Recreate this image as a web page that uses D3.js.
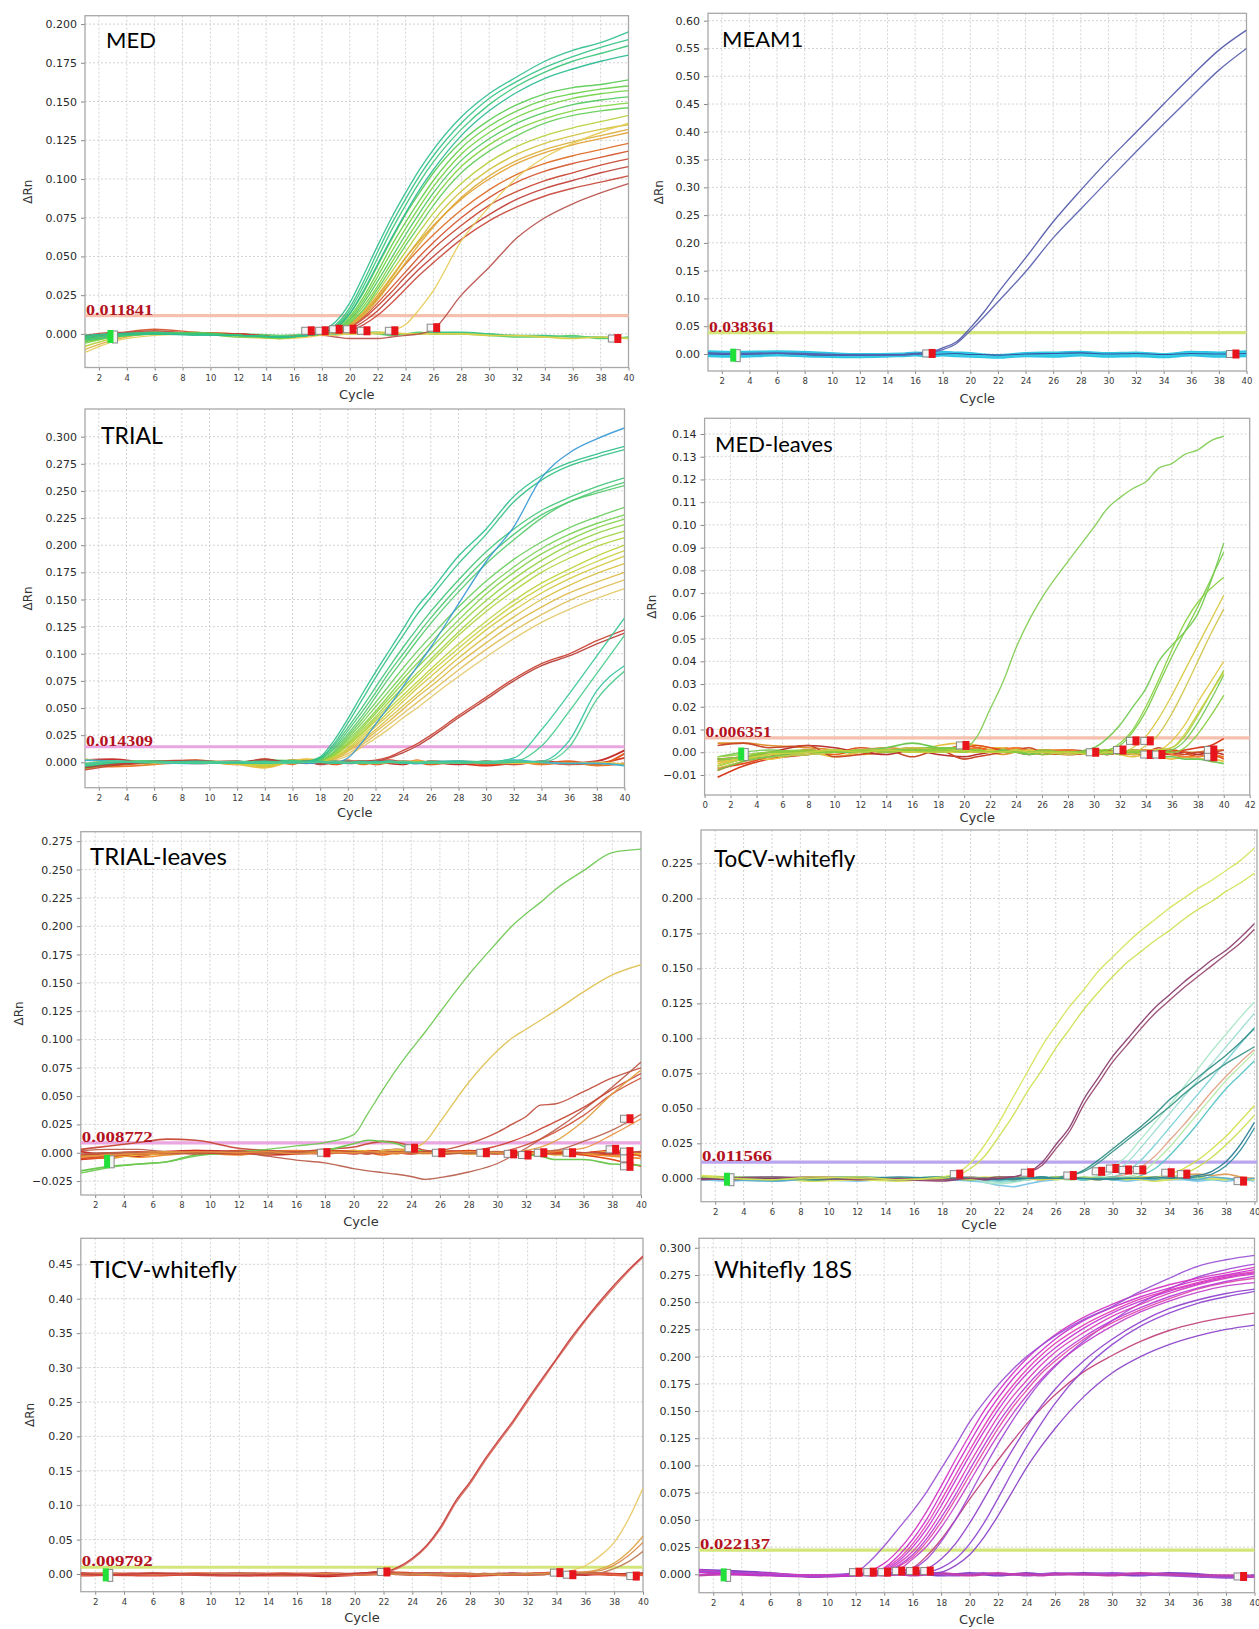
<!DOCTYPE html>
<html>
<head>
<meta charset="utf-8">
<script src="https://cdn.jsdelivr.net/npm/d3@7"></script>
<style>
  body { margin: 0; background: #fff; }
  svg { display: block; }
</style>
</head>
<body>
<div id="fig"></div>
<script>
// ---- shared ticks ----
var cycleTicks = [2,4,6,8,10,12,14,16,18,20,22,24,26,28,30,32,34,36,38,40];
var cycleTicks0 = [0,2,4,6,8,10,12,14,16,18,20,22,24,26,28,30,32,34,36,38,40,42];

// ---- MED ----
var medCycles = [1,3,6,9,12,15,17,18,19,20,21,22,23,24,25,26,28,30,32,34,36,38,40];
var medYTicks = [0,.025,.05,.075,.1,.125,.15,.175,.2];
var medBase = [
  ['#3fc585', [-.003,-.001,0,0,-.001,-.002,-.001,0,0,.001,.001,.001,0,0,0,.001,.001,0,-.001,-.001,-.002,-.002,-.003]],
  ['#5fd070', [-.001,0,.001,0,0,-.001,0,.001,0,0,.001,0,-.001,0,.001,0,0,-.001,-.002,-.002,-.001,-.003,-.002]],
  ['#d8d048', [-.002,-.001,0,0,-.001,-.002,-.001,0,.001,0,0,.001,.001,0,0,0,0,-.001,-.001,-.002,-.003,-.002,-.003]]
];
var medCurves = [
  ['#dd6a22', [-.003,0,.001,.001,0,-.002,-.001,.001,.002,.006,.013,.023,.034,.045,.055,.064,.080,.093,.103,.110,.115,.119,.123]],
  ['#d4522a', [-.002,0,.003,.001,0,-.002,-.001,0,.002,.005,.011,.020,.030,.040,.050,.059,.075,.088,.098,.105,.110,.114,.118]],
  ['#c84430', [-.004,-.001,.001,0,-.001,-.002,-.001,0,.001,.004,.010,.018,.027,.037,.046,.055,.070,.083,.092,.099,.104,.109,.113]],
  ['#bf3e36', [-.002,0,.001,0,0,-.002,-.001,0,.001,.003,.008,.015,.024,.033,.042,.050,.065,.077,.087,.094,.099,.104,.108]],
  ['#c8463a', [-.001,.001,.001,0,0,-.002,-.001,0,.001,.002,.006,.012,.020,.029,.038,.046,.061,.073,.082,.089,.094,.098,.102]],
  ['#b8504a', [-.002,0,.002,0,-.001,-.002,-.001,-.001,-.002,-.003,-.003,-.003,-.002,-.001,0,.003,.025,.043,.062,.075,.084,.091,.097]],
  ['#b5cf3a', [-.008,-.003,0,0,-.001,-.002,-.001,0,.002,.007,.015,.027,.040,.053,.066,.078,.097,.111,.121,.128,.133,.137,.141]],
  ['#cfc23c', [-.005,-.002,0,0,-.001,-.003,-.001,0,.001,.006,.013,.024,.036,.049,.061,.073,.092,.106,.116,.123,.128,.132,.135]],
  ['#dcae38', [-.010,-.004,0,0,-.001,-.003,-.001,0,.001,.005,.012,.022,.034,.046,.058,.069,.088,.102,.112,.119,.124,.128,.132]],
  ['#e29f30', [-.004,-.001,.001,0,-.001,-.002,-.001,0,.002,.006,.014,.025,.037,.049,.060,.070,.087,.100,.110,.117,.122,.126,.130]],
  ['#e6cc58', [-.012,-.005,-.001,0,-.002,-.003,-.002,-.001,-.001,0,0,0,.002,.006,.016,.028,.060,.082,.101,.114,.123,.130,.136]],
  ['#5acb52', [-.005,-.002,0,.001,-.001,-.002,-.001,.001,.005,.013,.027,.044,.061,.077,.091,.104,.124,.138,.148,.155,.159,.161,.164]],
  ['#66cf48', [-.003,-.001,0,0,-.001,-.002,-.001,0,.004,.011,.024,.040,.057,.072,.086,.099,.120,.134,.144,.151,.155,.158,.160]],
  ['#72d244', [-.006,-.002,.001,0,-.001,-.003,-.001,0,.003,.010,.022,.037,.053,.068,.082,.095,.116,.130,.140,.147,.152,.155,.157]],
  ['#4fc85c', [-.002,0,0,0,-.001,-.002,-.001,0,.003,.009,.020,.034,.049,.064,.078,.091,.112,.126,.136,.143,.148,.151,.153]],
  ['#7fd440', [-.004,-.001,0,0,-.001,-.002,-.001,0,.002,.008,.018,.031,.046,.060,.074,.087,.108,.122,.132,.139,.144,.147,.149]],
  ['#62cd58', [-.003,-.001,0,0,-.002,-.002,-.001,0,.002,.007,.016,.029,.043,.057,.070,.083,.104,.118,.128,.136,.141,.144,.146]],
  ['#2fbf8c', [-.003,-.001,0,0,-.001,-.002,-.001,.002,.008,.020,.038,.057,.075,.091,.106,.119,.140,.155,.166,.176,.183,.188,.195]],
  ['#35c383', [-.002,0,.001,0,-.001,-.002,-.001,.001,.006,.017,.034,.053,.071,.087,.102,.115,.136,.152,.163,.172,.179,.185,.190]],
  ['#3ec77a', [-.004,-.002,0,0,-.001,-.002,-.001,.001,.005,.015,.031,.049,.067,.083,.098,.111,.132,.148,.160,.169,.176,.181,.186]],
  ['#29bb90', [-.001,0,0,-.001,-.001,-.002,-.001,.001,.004,.013,.028,.045,.062,.078,.093,.106,.128,.144,.156,.165,.171,.176,.180]]
];
var medMarks = [[17.2,.002],[18.2,.002],[19.2,.003],[20.2,.003],[21.2,.002],[23.2,.002],[26.2,.004],[39.2,-.003]];

// ---- MEAM1 ----
var meamCycles = [1,3,6,9,12,15,16,17,18,19,20,21,22,24,26,28,30,32,34,36,38,40];
var meamYTicks = [0,.05,.1,.15,.2,.25,.3,.35,.4,.45,.5,.55,.6];
var meamBase = [
  ['#2cc6e4', [.004,.003,.004,.002,-.001,0,.002,.001,.003,.002,.001,-.002,-.003,.001,.002,.003,.001,.002,-.001,.003,.002,.004], 3],
  ['#2cc6e4', [-.003,-.004,-.002,-.004,-.005,-.003,-.002,-.003,-.002,-.003,-.004,-.005,-.006,-.003,-.004,-.002,-.004,-.003,-.005,-.002,-.004,-.003], 3],
  ['#38cce6', [.001,0,.001,-.001,-.003,-.002,0,-.001,0,-.001,-.002,-.003,-.004,-.001,0,.001,-.001,0,-.002,.001,-.001,.001], 3],
  ['#3a52a0', [0,-.001,.001,-.002,-.002,-.001,0,-.001,0,.001,-.001,-.001,-.002,0,.001,.002,0,.001,-.001,.001,0,.001], 1.1]
];
var meamCurves = [
  ['#5058a8', [.002,.001,.002,0,-.002,-.001,.001,.003,.011,.022,.047,.076,.110,.173,.238,.295,.349,.399,.450,.500,.547,.583]],
  ['#5a62b0', [.001,0,.001,-.001,-.002,-.002,0,.002,.008,.019,.042,.067,.094,.148,.209,.261,.313,.364,.414,.463,.511,.550]]
];
var meamMarks = [[17.2,.001],[39.2,0]];

// ---- TRIAL ----
var trialCycles = [1,3,6,9,12,14,16,17,18,19,20,21,22,23,24,25,26,28,30,32,34,36,38,40];
var trialYTicks = [0,.025,.05,.075,.1,.125,.15,.175,.2,.225,.25,.275,.3];
var trialBase = [
  ['#d83a20', [-.004,-.003,0,.001,-.001,.002,0,.001,-.002,0,.001,-.001,0,.002,0,-.001,.001,-.001,-.003,-.001,0,-.002,-.001,.004]],
  ['#e05a20', [-.006,-.002,.001,-.001,0,-.002,.001,-.001,.001,-.002,0,.001,-.002,0,.001,0,-.002,.001,-.002,0,-.001,.001,-.002,.008]],
  ['#c83030', [.002,.003,-.001,0,.001,-.004,.002,0,-.001,.001,-.001,0,.001,-.001,-.002,.001,0,-.002,.001,-.002,.001,-.001,.001,.011]],
  ['#e87a28', [-.003,-.004,-.002,.002,-.002,.003,-.002,.002,0,-.001,.002,-.002,0,.001,-.001,.002,-.001,0,-.001,.001,-.002,0,-.003,-.001]],
  ['#e8c040', [.003,0,-.001,0,-.002,-.005,.001,.003,.002,0,.001,0,-.001,0,0,.001,0,.001,0,-.001,0,-.001,0,-.002]],
  ['#40b0d0', [.002,.001,0,-.001,0,.001,0,0,-.001,0,.001,0,0,.001,0,-.001,0,.001,0,.002,0,-.001,-.001,-.003]]
];
var trialCurves = [
  ['#e4c868', [-.002,0,0,0,-.001,-.003,.001,.001,0,.002,.006,.014,.022,.031,.041,.050,.060,.079,.097,.114,.129,.141,.151,.160]],
  ['#e0be58', [-.003,0,.001,.001,0,-.002,.002,.001,.001,.003,.008,.016,.025,.035,.045,.055,.065,.085,.104,.121,.136,.149,.159,.168]],
  ['#dcb848', [-.005,-.002,0,0,-.001,-.003,.001,.001,.001,.003,.010,.018,.028,.038,.049,.060,.070,.091,.110,.128,.143,.156,.166,.175]],
  ['#d8bf42', [-.002,0,.001,0,-.001,-.002,.001,.002,.001,.004,.011,.020,.030,.041,.052,.063,.074,.096,.116,.134,.150,.163,.174,.183]],
  ['#d2c840', [-.004,-.001,0,.001,0,-.004,.002,.001,.001,.004,.012,.022,.033,.044,.056,.068,.079,.101,.122,.140,.156,.169,.180,.190]],
  ['#c8cf3e', [-.001,.001,0,0,-.001,-.003,.001,.001,.001,.005,.013,.024,.035,.047,.059,.071,.083,.105,.126,.145,.161,.174,.185,.195]],
  ['#bcd23c', [-.003,0,.001,0,-.001,-.002,.001,.001,.002,.006,.015,.026,.038,.050,.062,.074,.086,.109,.130,.149,.165,.178,.190,.200]],
  ['#aed33c', [-.006,-.002,0,0,0,.001,.001,0,.001,.006,.016,.027,.040,.053,.066,.079,.092,.117,.139,.158,.175,.188,.199,.207]],
  ['#a0d440', [-.002,0,0,.001,-.001,.002,0,.001,.002,.007,.017,.029,.042,.056,.069,.082,.095,.120,.143,.163,.180,.194,.205,.213]],
  ['#92d444', [-.004,-.001,.001,0,0,.001,.001,0,.002,.007,.018,.031,.045,.059,.073,.087,.100,.126,.149,.169,.186,.200,.211,.219]],
  ['#84d24a', [-.003,0,0,0,-.001,.001,.002,.001,.002,.008,.020,.033,.047,.062,.077,.091,.105,.131,.155,.175,.192,.205,.216,.224]],
  ['#76d052', [-.005,-.002,0,.001,0,.002,.001,0,.002,.009,.022,.036,.051,.066,.081,.096,.110,.137,.160,.180,.197,.210,.220,.228]],
  ['#68cd5c', [-.002,0,.001,0,-.001,.001,0,.001,.002,.010,.024,.039,.055,.071,.087,.102,.116,.143,.167,.187,.203,.216,.226,.235]],
  ['#56ca6c', [-.004,-.001,0,.001,0,.001,.001,0,.003,.012,.026,.042,.060,.078,.095,.112,.128,.157,.183,.205,.225,.240,.248,.255]],
  ['#4cc872', [-.003,0,.001,0,-.001,.001,0,.001,.003,.013,.029,.046,.064,.083,.100,.117,.133,.162,.188,.210,.228,.240,.250,.258]],
  ['#42c57a', [-.005,-.001,0,.001,0,.002,.001,0,.004,.015,.032,.050,.069,.088,.106,.123,.139,.168,.194,.215,.232,.244,.254,.262]],
  ['#34c184', [-.002,0,.001,0,-.001,.001,0,.001,.004,.017,.036,.057,.078,.098,.117,.136,.152,.183,.210,.240,.260,.273,.281,.288]],
  ['#2fbf8a', [-.004,-.002,0,.001,0,.002,.001,.001,.005,.020,.040,.062,.083,.103,.123,.143,.158,.190,.215,.245,.264,.276,.284,.291]],
  ['#3a9ad6', [-.003,.001,0,0,-.001,.001,0,-.001,0,0,.004,.018,.035,.052,.070,.088,.106,.146,.185,.217,.262,.285,.298,.308]],
  ['#c84030', [-.007,-.003,.001,.002,-.001,.002,0,.001,-.001,0,.001,.001,.002,.005,.011,.017,.025,.043,.060,.077,.091,.100,.112,.122]],
  ['#b83c34', [-.005,-.002,0,.001,0,.003,-.001,0,0,.001,0,.001,.001,.004,.009,.015,.023,.041,.058,.075,.089,.098,.109,.119]],
  ['#3cc896', [-.002,.001,0,-.001,0,.001,0,.001,0,-.001,0,.001,0,0,-.001,0,.001,0,0,.004,.030,.063,.098,.133]],
  ['#48cc8c', [-.003,0,.001,0,-.001,0,.001,0,0,.001,0,-.001,0,.001,0,0,-.001,0,.001,.001,.015,.047,.082,.117]],
  ['#36c4a0', [-.001,0,0,.001,0,-.001,0,0,.001,0,-.001,0,.001,0,0,-.001,0,.001,-.001,0,.001,.020,.066,.089]],
  ['#50cc90', [-.002,.001,0,0,.001,0,-.001,0,0,.001,0,0,-.001,0,.001,0,0,-.001,0,.001,0,.014,.058,.084]]
];
var trialMarks = [];

// ---- MED-leaves ----
var medlCycles = [1,3,5,8,10,12,14,16,18,20,21,22,23,24,25,26,28,30,31,32,33,34,35,36,37,38,39,40];
var medlYTicks = [-.01,0,.01,.02,.03,.04,.05,.06,.07,.08,.09,.1,.11,.12,.13,.14];
var medlBase = [
  ['#d83a1c', [-.011,-.006,-.003,-.001,.001,0,.001,.001,.002,.001,.002,.001,.002,.001,0,.001,0,0,-.001,0,.001,0,-.001,0,.001,.002,.003,.006]],
  ['#e8661c', [-.008,-.004,-.002,0,-.001,.001,0,.002,.001,.003,.002,.001,.001,0,.001,0,-.001,0,.001,-.001,0,-.002,-.001,-.001,-.002,-.001,-.002,-.002]],
  ['#e09030', [.004,.004,.003,.002,.001,-.001,0,.001,.002,.002,.001,0,-.001,0,0,-.001,0,.001,0,0,.001,.001,0,.001,0,0,.001,.001]],
  ['#e8c040', [-.005,-.003,-.003,0,-.002,0,.001,0,.003,.004,.003,.002,.002,.001,.001,.001,0,-.001,0,-.001,-.002,-.001,-.002,-.003,-.002,-.003,-.003,-.004]],
  ['#b83030', [-.003,-.002,0,.003,.002,0,-.001,.001,-.001,-.002,-.001,0,.001,0,-.001,0,.001,0,-.001,0,0,.001,0,-.001,0,-.001,0,-.001]],
  ['#e05020', [-.007,-.005,-.002,.001,0,.002,.001,.002,.001,.002,.003,.002,.001,.002,.001,0,.001,0,0,.001,0,-.001,0,.001,0,-.002,-.001,-.003]],
  ['#c84828', [.003,.004,.002,.003,-.002,-.001,.001,-.002,.001,-.003,-.002,-.001,0,.001,.002,0,-.001,0,.001,0,-.001,0,.002,0,-.001,0,0,.001]],
  ['#f08030', [-.004,-.002,-.001,.001,0,.001,.002,.001,0,.002,.001,0,.001,.002,0,.001,.001,-.001,0,.001,-.001,0,.001,-.001,-.002,-.002,-.001,-.002]],
  ['#6cc850', [-.006,-.003,-.002,-.001,0,.001,.002,.004,.002,.001,.001,0,0,0,-.001,0,0,0,0,.001,0,-.001,-.002,-.002,-.003,-.003,-.004,-.005]]
];
var medlCurves = [
  ['#80cc50', [-.004,-.002,-.001,0,0,.001,.001,.002,.002,.002,.007,.019,.031,.046,.058,.068,.084,.099,.107,.112,.116,.119,.125,.127,.131,.133,.137,.139]],
  ['#6ec84a', [-.002,0,.001,0,.001,0,.001,.001,0,.001,0,0,0,0,-.001,0,0,.002,.006,.012,.020,.028,.040,.047,.053,.061,.075,.092]],
  ['#78cc44', [-.006,-.003,-.001,0,0,.001,0,.001,.002,.001,0,.001,0,0,0,-.001,0,0,.001,.003,.009,.018,.030,.042,.053,.064,.076,.088]],
  ['#88d040', [-.003,-.002,0,.001,0,0,.001,.001,.001,0,.001,0,.001,0,0,0,-.001,.001,.001,.004,.010,.020,.032,.045,.057,.066,.072,.077]],
  ['#d8c840', [-.004,-.003,-.001,0,.001,0,.001,0,.001,.001,0,.001,0,0,.001,0,0,-.001,0,0,.002,.007,.015,.025,.036,.047,.058,.069]],
  ['#d0c44a', [-.007,-.004,-.002,-.001,0,.001,.001,.002,.001,0,.001,0,0,.001,0,0,-.001,0,0,.001,0,.003,.008,.017,.028,.040,.052,.063]],
  ['#e0c848', [-.005,-.003,-.001,0,0,.001,0,.001,0,0,0,.001,0,0,.001,0,0,0,-.001,0,0,.001,.001,.005,.012,.022,.031,.040]],
  ['#9ad040', [-.002,-.001,0,0,.001,0,.001,0,.001,.001,0,0,0,.001,0,0,0,-.001,0,0,.001,0,.001,.002,.007,.016,.026,.036]],
  ['#70c850', [-.008,-.004,-.002,0,0,0,.001,.001,0,.001,0,0,.001,0,0,0,0,0,-.001,0,0,0,0,.001,.005,.013,.023,.034]],
  ['#86cc3c', [-.003,-.002,0,0,0,.001,0,.001,.001,0,.001,0,0,0,0,.001,0,0,0,-.001,0,0,0,0,.002,.008,.016,.025]],
  ['#c8d040', [-.006,-.003,-.001,0,.001,0,.001,0,0,.001,0,0,0,.001,0,0,0,-.001,0,0,-.001,0,.001,.002,.008,.017,.026,.035]]
];
var medlMarks = [[20.1,.003],[30.1,0],[32.2,.001],[33.2,.005],[34.3,.005],[34.3,-.001],[35.2,-.001],[39.2,.001],[39.2,-.002]];

// ---- TRIAL-leaves ----
var trlCycles = [1,3,5,7,9,12,14,16,18,20,21,22,23,24,25,26,28,30,31,32,33,34,36,38,40];
var trlYTicks = [-.025,0,.025,.05,.075,.1,.125,.15,.175,.2,.225,.25,.275];
var trlBase = [
  ['#d83a1c', [-.006,-.004,-.002,.001,-.001,.002,0,.001,0,.002,.001,0,.001,.002,0,.001,-.001,0,-.001,.001,0,-.001,0,.002,-.003]],
  ['#e8661c', [-.004,-.005,-.001,0,.002,0,.002,0,-.001,.001,0,-.002,0,.001,.002,-.001,0,.001,0,-.001,-.002,0,-.001,-.002,-.002]],
  ['#f09030', [-.003,-.001,-.004,-.002,0,-.002,.001,.002,.001,0,.002,.001,-.001,.002,.001,0,.001,-.001,.001,0,.001,.002,-.001,-.003,-.005]],
  ['#c83028', [.001,-.002,-.003,.001,.002,.001,-.002,-.001,.002,-.001,.001,.002,.003,.001,0,.002,.001,0,-.002,-.001,0,.001,0,-.001,0]],
  ['#e8b838', [-.002,-.004,-.002,-.001,0,.001,-.001,.001,0,.002,.001,0,.002,.001,.001,.002,-.001,0,.001,-.001,0,-.002,-.001,.001,-.001]],
  ['#c85040', [.003,.006,.009,.012,.011,.004,.002,.001,.003,.005,.008,.010,.009,.006,.002,.001,0,-.001,0,.001,0,-.001,0,0,.001]],
  ['#e04818', [-.005,-.003,-.001,0,.001,-.001,.001,0,.002,.001,-.001,.001,0,-.001,.001,0,.002,0,-.001,0,.001,0,-.002,-.006,-.012]],
  ['#6cc850', [-.016,-.012,-.010,-.008,-.002,0,.001,0,.002,.008,.011,.010,.008,.003,.001,0,0,0,-.001,-.002,-.003,-.006,-.006,-.010,-.011]]
];
var trlCurves = [
  ['#6cc850', [-.018,-.013,-.010,-.008,-.003,.001,.003,.006,.009,.016,.035,.055,.074,.091,.107,.124,.157,.186,.200,.211,.221,.232,.249,.265,.268]],
  ['#e0c050', [-.004,-.002,0,.001,0,0,.001,0,0,.001,0,.002,.003,.004,.010,.027,.062,.090,.101,.109,.117,.125,.142,.157,.166]],
  ['#c04a3a', [-.003,-.001,0,.001,0,-.001,.001,0,.001,0,-.001,.001,0,.001,.001,.002,.008,.018,.025,.032,.042,.043,.054,.066,.075]],
  ['#b85a48', [.002,.003,.003,.001,.001,0,-.003,-.0065,-.009,-.014,-.016,-.0175,-.019,-.021,-.0235,-.022,-.017,-.0095,-.003,.004,.012,.020,.038,.058,.080]],
  ['#c8402e', [-.002,0,.001,0,-.001,.001,0,-.001,0,.001,0,0,.001,0,0,-.001,.001,.006,.010,.015,.021,.027,.040,.056,.070]],
  ['#d05038', [-.005,-.003,-.001,0,.001,0,-.001,.001,0,0,.001,0,0,-.001,0,.001,0,0,.003,.007,.012,.018,.033,.052,.066]],
  ['#e0a040', [-.003,-.002,0,.001,0,.001,0,0,.001,0,0,.001,0,0,-.001,0,0,.001,0,.002,.005,.010,.028,.052,.073]],
  ['#b86048', [-.001,0,0,-.001,0,.001,0,0,-.001,.001,0,0,.001,0,0,-.001,0,.001,0,0,.001,.002,.010,.020,.034]],
  ['#e89040', [-.004,-.002,-.001,0,.001,0,.001,-.001,0,0,.001,0,0,.001,0,0,.001,0,-.001,0,0,.001,.004,.016,.030]]
];
var trlMarks = [[18.1,0],[24.2,.004],[26.1,0],[29.2,0],[31.1,-.001],[32.1,-.002],[33.2,0],[35.2,0],[38.2,.003],[39.2,.030],[39.2,.001],[39.2,-.005],[39.2,-.012]];

// ---- ToCV-whitefly ----
var tocvCycles = [1,3,6,9,12,15,18,20,21,22,23,24,25,26,27,28,29,30,31,32,33,34,35,36,37,38,39,40];
var tocvYTicks = [0,.025,.05,.075,.1,.125,.15,.175,.2,.225];
var tocvBase = [
  ['#e0a060', [.001,0,.001,-.001,0,-.001,0,.001,-.001,0,.001,0,-.001,0,.001,0,-.001,0,0,.001,0,-.001,.002,.003,.002,.003,.001,0]],
  ['#80c8e8', [-.001,-.002,0,-.001,-.002,0,-.001,-.002,-.003,-.005,-.006,-.004,-.002,-.001,0,-.001,0,-.001,-.002,-.001,0,-.001,-.001,-.002,-.001,-.002,-.001,-.002]],
  ['#a0e0a0', [.001,0,-.001,0,.001,0,.001,0,-.001,-.002,-.001,0,.001,0,-.001,0,.001,-.001,0,0,-.001,0,.001,0,-.001,0,-.001,-.001]],
  ['#d8e060', [.002,.001,0,-.002,-.001,-.002,0,-.001,0,.001,0,-.001,0,-.001,0,-.001,0,.001,0,-.001,-.002,-.001,0,.001,0,-.001,0,-.001]],
  ['#60b0d0', [0,-.001,-.002,0,.001,-.001,0,.001,0,-.001,-.002,-.001,0,.001,0,-.001,0,0,.001,0,-.001,.001,0,-.001,.001,0,-.001,0]]
];
var tocvCurves = [
  ['#a8e6c6', [0,-.001,0,.001,0,-.001,0,0,-.003,-.004,-.003,-.001,0,.001,0,0,.002,.008,.016,.028,.040,.052,.065,.078,.091,.103,.115,.126]],
  ['#9cdcd2', [-.001,0,.001,0,0,-.001,0,-.001,-.002,-.003,-.002,0,0,0,.001,0,.001,.004,.011,.022,.034,.046,.058,.070,.082,.094,.106,.118]],
  ['#78d0d6', [0,0,-.001,0,.001,0,-.001,0,-.001,-.002,-.001,0,.001,0,0,.001,0,.001,.005,.013,.024,.036,.048,.060,.072,.084,.096,.108]],
  ['#e0a284', [.001,0,0,.001,0,-.001,0,.001,0,0,.001,0,-.001,0,.001,0,0,.001,.003,.008,.016,.027,.038,.050,.062,.073,.083,.092]],
  ['#b4e8a4', [0,.001,0,-.001,0,0,.001,0,0,-.001,0,.001,0,0,-.001,0,.001,0,.001,.004,.012,.022,.034,.046,.058,.070,.080,.090]],
  ['#52c2c2', [-.001,0,.001,0,0,-.001,0,0,-.001,-.001,0,0,.001,0,0,-.001,0,.001,0,.002,.007,.016,.027,.039,.052,.064,.074,.084]],
  ['#2e8c82', [0,.001,0,-.001,0,0,.001,0,-.001,0,.001,0,0,.001,.002,.006,.013,.021,.029,.037,.046,.056,.064,.072,.080,.088,.097,.107]],
  ['#3a9488', [.001,0,-.001,0,.001,0,0,-.001,0,.001,0,0,.001,0,.002,.005,.011,.019,.027,.035,.043,.051,.060,.068,.075,.082,.088,.094]],
  ['#d2e04a', [.001,0,0,-.001,0,0,-.001,0,.001,0,-.001,0,0,.001,0,0,-.001,0,0,.001,.001,.003,.007,.013,.021,.030,.041,.052]],
  ['#c8dc4c', [0,.001,0,0,-.001,0,0,-.001,0,.001,0,0,-.001,0,0,.001,0,0,-.001,0,0,.001,.003,.008,.015,.024,.034,.045]],
  ['#2a7e94', [0,0,-.001,0,0,.001,0,0,0,-.001,0,0,.001,0,0,0,-.001,0,0,0,.001,0,.001,.002,.005,.012,.024,.040]],
  ['#2c8a9a', [.001,0,0,-.001,0,0,.001,0,0,0,-.001,0,0,0,.001,0,0,-.001,0,0,0,.001,0,.001,.003,.009,.020,.036]],
  ['#8a3a6c', [0,-.001,0,.001,0,-.001,-.002,0,-.001,0,.001,.004,.011,.024,.037,.057,.072,.087,.099,.111,.122,.131,.140,.148,.156,.163,.172,.182]],
  ['#96446e', [-.001,0,.001,0,-.001,0,-.001,0,0,.001,.001,.004,.009,.021,.034,.053,.068,.083,.095,.107,.118,.127,.136,.144,.152,.160,.168,.178]],
  ['#d6e45a', [.002,0,-.001,0,.001,-.001,.001,.011,.024,.040,.058,.076,.094,.109,.123,.135,.148,.158,.168,.177,.185,.193,.200,.207,.213,.220,.227,.236]],
  ['#cfe050', [.001,0,-.001,.001,0,-.001,0,.007,.016,.030,.045,.062,.077,.093,.107,.121,.133,.144,.154,.162,.170,.177,.185,.192,.198,.205,.211,.218]]
];
var tocvMarks = [[19.2,.003],[24.2,.004],[27.2,.002],[29.2,.005],[30.2,.007],[31.1,.006],[32.1,.006],[34.1,.004],[35.2,.003],[39.2,-.002]];

// ---- TICV-whitefly ----
var ticvCycles = [1,3,6,9,12,15,18,20,22,23,24,25,26,27,28,29,30,31,32,33,34,35,36,37,38,39,40];
var ticvYTicks = [0,.05,.1,.15,.2,.25,.3,.35,.4,.45];
var ticvBase = [
  ['#c82828', [0,-.001,0,-.001,-.002,0,-.003,-.001,.001,0,-.001,0,.001,-.001,-.002,0,-.001,0,-.001,0,.001,0,-.001,0,-.001,0,-.001]],
  ['#d84030', [-.002,-.001,-.002,0,-.001,-.002,-.001,0,.002,.002,.001,0,-.001,-.002,-.003,-.002,-.001,-.001,0,0,.001,.002,.001,.001,0,-.001,0]],
  ['#b83030', [.001,0,.001,0,.001,-.001,.001,0,.003,.001,0,.001,0,.001,0,-.001,0,.001,0,.001,0,-.001,0,.001,-.001,0,.001]],
  ['#e06040', [0,.001,-.001,.001,0,.001,0,-.001,0,.001,0,-.001,-.002,-.003,-.002,-.001,0,-.001,0,.001,.002,.002,.001,0,-.001,-.002,-.001]]
];
var ticvCurves = [
  ['#e8c864', [0,.001,0,0,-.001,0,-.001,0,.001,0,-.001,0,0,.001,0,0,-.001,0,.001,0,.002,.005,.012,.026,.046,.080,.125]],
  ['#e0a040', [-.001,0,0,.001,0,-.001,0,0,.001,0,0,-.001,0,0,.001,0,0,0,-.001,0,.001,.001,.003,.007,.016,.032,.055]],
  ['#d88848', [0,0,.001,0,-.001,0,0,-.001,0,.001,0,0,-.001,0,0,.001,0,-.001,0,0,.001,.002,.003,.005,.013,.027,.046]],
  ['#c07850', [0,-.001,0,0,.001,0,-.001,0,.001,0,0,.001,0,-.001,0,0,.001,0,0,-.001,0,.001,.001,.002,.008,.018,.033]],
  ['#d66a5a', [-.001,0,0,-.001,-.001,.001,-.001,0,.002,.008,.021,.040,.067,.103,.131,.163,.192,.220,.251,.281,.311,.340,.368,.393,.417,.440,.460]],
  ['#c83a3a', [0,-.001,.001,0,-.002,0,-.002,.001,.003,.010,.023,.042,.070,.106,.134,.166,.195,.223,.254,.284,.313,.343,.370,.396,.420,.442,.462]]
];
var ticvMarks = [[22.2,.003],[34.2,.002],[35.1,-.001],[39.5,-.003]];

// ---- Whitefly 18S ----
var wfCycles = [1,3,6,9,12,13,14,15,16,17,18,19,20,21,22,23,24,25,26,28,30,32,34,36,38,40];
var wfYTicks = [0,.025,.05,.075,.1,.125,.15,.175,.2,.225,.25,.275,.3];
var wfBase = [
  ['#8040c8', [.004,.003,.001,-.002,-.001,0,.001,0,.001,0,-.001,0,.001,0,-.001,0,.001,0,0,.001,0,-.001,.001,0,-.002,-.001]],
  ['#a050d0', [.002,.001,0,-.001,0,-.001,0,.001,0,.001,0,-.001,0,.001,0,0,-.001,0,.001,0,.001,0,-.001,-.002,-.003,-.002]],
  ['#c040b0', [-.001,0,-.001,-.002,-.001,0,-.001,0,-.001,0,.001,0,-.001,0,.001,0,0,-.001,0,0,-.001,.001,0,-.001,-.001,-.002]]
];
var wfCurves = [
  ['#8a40c8', [.003,.002,0,-.001,-.001,0,0,0,.001,.001,.002,.008,.018,.034,.054,.076,.098,.117,.134,.163,.185,.200,.211,.219,.225,.229]],
  ['#c0407a', [.002,.001,0,-.002,0,.001,.001,.003,.006,.017,.032,.050,.069,.087,.105,.122,.138,.152,.165,.186,.201,.214,.224,.231,.236,.240]],
  ['#8e44d0', [.002,.001,-.001,-.002,0,0,0,.001,.001,.002,.006,.014,.028,.047,.070,.094,.117,.138,.157,.188,.211,.228,.240,.249,.255,.260]],
  ['#9040cc', [.003,.001,0,-.001,0,0,.001,.001,.002,.005,.014,.028,.047,.069,.092,.114,.135,.154,.170,.196,.216,.232,.244,.252,.258,.262]],
  ['#a048d4', [.004,.002,0,-.002,-.001,0,.001,.002,.005,.014,.030,.050,.073,.097,.120,.141,.160,.177,.191,.214,.233,.249,.262,.273,.280,.285]],
  ['#c040cc', [.002,.002,0,-.002,0,.001,.001,.004,.014,.026,.043,.063,.085,.107,.128,.147,.164,.179,.192,.212,.228,.241,.251,.259,.265,.268]],
  ['#e24aa8', [.003,.001,0,-.001,0,0,.002,.007,.016,.030,.048,.069,.091,.113,.134,.153,.169,.184,.196,.216,.231,.243,.253,.262,.268,.272]],
  ['#b83ad6', [.002,.001,0,-.002,-.001,0,.002,.008,.018,.033,.052,.073,.096,.118,.139,.157,.173,.187,.199,.218,.233,.245,.255,.263,.269,.274]],
  ['#d83cbc', [.003,.002,.001,-.001,0,.001,.003,.010,.021,.037,.057,.079,.102,.124,.145,.163,.178,.192,.204,.222,.237,.248,.258,.266,.272,.276]],
  ['#c632d0', [.002,.001,0,-.002,0,.001,.004,.012,.025,.042,.063,.086,.109,.131,.151,.169,.184,.197,.208,.226,.240,.251,.260,.267,.273,.277]],
  ['#e03cb4', [.004,.002,0,-.001,0,.001,.005,.014,.028,.046,.068,.091,.114,.136,.156,.173,.188,.201,.212,.229,.242,.253,.261,.268,.274,.278]],
  ['#cc2ccc', [.002,.001,-.001,-.002,0,.002,.006,.017,.032,.051,.074,.098,.121,.143,.162,.179,.193,.205,.216,.233,.245,.255,.263,.270,.275,.280]],
  ['#d232c2', [.003,.001,0,-.002,0,.003,.010,.022,.038,.058,.081,.105,.128,.150,.168,.184,.198,.210,.220,.236,.248,.258,.266,.272,.277,.282]],
  ['#9a50d2', [.003,.002,0,-.002,.002,.012,.026,.042,.058,.076,.097,.118,.140,.158,.174,.188,.200,.210,.219,.234,.246,.260,.272,.283,.289,.293]]
];
var wfMarks = [[12.2,.002],[13.2,.002],[14.2,.002],[15.2,.003],[16.2,.003],[17.2,.003],[39.2,-.002]];

// ---- panel layout ----
var panels = [
  {title:'MED', ts:22, tx:106, ty:48, cycles:medCycles, base:medBase, curves:medCurves, marks:medMarks, green:[2.9,-.002],
   thr:0.011841, thrText:'0.011841', thrColor:'#f6c0ae', tl:67,
   box:[85,628.5,15.7,367.5], xDom:[1,40], yDom:[-0.0217,0.2054], yTicks:medYTicks, xTicks:cycleTicks, fmt:'.3f', dx:32, cy:31},
  {title:'MEAM1', ts:22, tx:722, ty:47, cycles:meamCycles, base:meamBase, curves:meamCurves, marks:meamMarks, green:[2.9,-.003],
   thr:0.038361, thrText:'0.038361', thrColor:'#d3e67a', tl:66,
   box:[708,1246.5,13.3,371], xDom:[1,40], yDom:[-0.0306,0.6133], yTicks:meamYTicks, xTicks:cycleTicks, fmt:'.2f', dx:663, cy:32},
  {title:'TRIAL', ts:23, tx:101, ty:444, cycles:trialCycles, base:trialBase, curves:trialCurves, marks:trialMarks, green:null,
   thr:0.014309, thrText:'0.014309', thrColor:'#eaa6e0', tl:67, baseW:1.8,
   box:[85,624.5,409,787.7], xDom:[1,40], yDom:[-0.0234,0.3255], yTicks:trialYTicks, xTicks:cycleTicks, fmt:'.3f', dx:32, cy:29},
  {title:'MED-leaves', ts:22, tx:715, ty:451.5, cycles:medlCycles, base:medlBase, curves:medlCurves, marks:medlMarks, green:[2.9,-.001],
   thr:0.006351, thrText:'0.006351', thrColor:'#f6c0ae', tl:66,
   box:[704.6,1249.7,418.3,795], xDom:[0,42], yDom:[-0.0188,0.1469], yTicks:medlYTicks, xTicks:cycleTicks0, fmt:'.2f', dx:656, cy:27},
  {title:'TRIAL-leaves', ts:24, tx:90, ty:865, cycles:trlCycles, base:trlBase, curves:trlCurves, marks:trlMarks, green:[2.9,-.008],
   thr:0.008772, thrText:'0.008772', thrColor:'#eaa6e0', tl:71,
   box:[80.8,641,831.7,1195], xDom:[1,40], yDom:[-0.0373,0.2834], yTicks:trlYTicks, xTicks:cycleTicks, fmt:'.3f', dx:23, cy:31},
  {title:'ToCV-whitefly', ts:22.5, tx:714, ty:866.5, cycles:tocvCycles, base:tocvBase, curves:tocvCurves, marks:tocvMarks, green:[2.9,-.001],
   thr:0.011566, thrText:'0.011566', thrColor:'#baa6ee', tl:70,
   box:[701,1257,830,1201.7], xDom:[1,40.18], yDom:[-0.0167,0.2489], yTicks:tocvYTicks, xTicks:cycleTicks, fmt:'.3f', dx:null, cy:27},
  {title:'TICV-whitefly', ts:24, tx:90, ty:1277.5, cycles:ticvCycles, base:ticvBase, curves:ticvCurves, marks:ticvMarks, green:[2.8,-.002],
   thr:0.009792, thrText:'0.009792', thrColor:'#d3e67a', tl:71, baseW:2.4,
   box:[80.8,643,1238.3,1591.7], xDom:[1,40], yDom:[-0.0257,0.4878], yTicks:ticvYTicks, xTicks:cycleTicks, fmt:'.2f', dx:34, cy:30},
  {title:'Whitefly 18S', ts:24, tx:714, ty:1277.5, cycles:wfCycles, base:wfBase, curves:wfCurves, marks:wfMarks, green:[2.8,-.001],
   thr:0.022137, thrText:'0.022137', thrColor:'#d3e67a', tl:70, baseW:2.4,
   box:[699,1254.5,1238.3,1592.7], xDom:[1,40], yDom:[-0.0169,0.3087], yTicks:wfYTicks, xTicks:cycleTicks, fmt:'.3f', dx:null, cy:31}
];

var svg = d3.select("#fig").append("svg")
  .attr("width", 1259)
  .attr("height", 1629);
svg.append("rect").attr("width", 1259).attr("height", 1629).attr("fill", "#fff");

function drawPanel(p, idx) {
  var l = p.box[0], r = p.box[1], t = p.box[2], b = p.box[3];
  var x = d3.scaleLinear().domain(p.xDom).range([l, r]);
  var y = d3.scaleLinear().domain(p.yDom).range([b, t]);
  var g = svg.append("g");

  // dotted grid
  g.append("g").selectAll("line").data(p.xTicks.filter(function(d){ return x(d) > l + 1 && x(d) < r - 1; }))
    .enter().append("line")
    .attr("x1", d => x(d)).attr("x2", d => x(d)).attr("y1", t).attr("y2", b)
    .attr("stroke", "#d2d2d2").attr("stroke-dasharray", "2,2");
  g.append("g").selectAll("line").data(p.yTicks)
    .enter().append("line")
    .attr("x1", l).attr("x2", r).attr("y1", d => y(d)).attr("y2", d => y(d))
    .attr("stroke", "#d2d2d2").attr("stroke-dasharray", "2,2");

  // axes
  var ya = g.append("g").attr("transform", "translate(" + l + ",0)")
    .call(d3.axisLeft(y).tickValues(p.yTicks).tickFormat(d3.format(p.fmt)).tickSize(4).tickPadding(4));
  ya.select(".domain").remove();
  ya.selectAll("line").attr("stroke", "#888");
  ya.selectAll("text").attr("font-family", "DejaVu Sans").attr("font-size", 11).attr("fill", "#2a2a2a");

  var xa = g.append("g").attr("transform", "translate(0," + b + ")")
    .call(d3.axisBottom(x).tickValues(p.xTicks).tickSize(3).tickPadding(4));
  xa.select(".domain").remove();
  xa.selectAll("line").attr("stroke", "#888");
  xa.selectAll("text").attr("font-family", "DejaVu Sans").attr("font-size", 8.5).attr("fill", "#3a3a3a");

  // frame
  g.append("rect").attr("x", l).attr("y", t).attr("width", r - l).attr("height", b - t)
    .attr("fill", "none").attr("stroke", "#a8a8a8").attr("stroke-width", 1.3);

  // threshold line
  g.append("line").attr("x1", l).attr("x2", r).attr("y1", y(p.thr)).attr("y2", y(p.thr))
    .attr("stroke", p.thrColor).attr("stroke-width", 3.2);

  var clipId = "clip" + idx;
  g.append("clipPath").attr("id", clipId).append("rect")
    .attr("x", l).attr("y", t).attr("width", r - l).attr("height", b - t);

  var line = d3.line().x(d => x(d[0])).y(d => y(d[1])).curve(d3.curveMonotoneX);
  var cg = g.append("g").attr("clip-path", "url(#" + clipId + ")");

  function toPts(v) { return p.cycles.map(function(c, i){ return [c, v[i]]; }); }

  cg.selectAll("path.base").data(p.base).enter().append("path")
    .attr("class", "base")
    .attr("d", d => line(toPts(d[1])))
    .attr("fill", "none").attr("stroke", d => d[0])
    .attr("stroke-width", d => d[2] || p.baseW || 1.6).attr("stroke-linejoin", "round");

  cg.selectAll("path.amp").data(p.curves).enter().append("path")
    .attr("class", "amp")
    .attr("d", d => line(toPts(d[1])))
    .attr("fill", "none").attr("stroke", d => d[0])
    .attr("stroke-width", 1.35).attr("stroke-linejoin", "round").attr("opacity", 0.92);

  // threshold value label
  g.append("text").attr("x", l + 1).attr("y", y(p.thr) - 1)
    .attr("font-family", "Liberation Serif").attr("font-weight", "bold").attr("font-size", 15.5)
    .attr("fill", "#b3121e").attr("textLength", p.tl).attr("lengthAdjust", "spacingAndGlyphs")
    .text(p.thrText);

  // baseline start / Ct markers
  if (p.green) {
    var gx = x(p.green[0]), gy = y(p.green[1]);
    g.append("rect").attr("x", gx + 1).attr("y", gy - 6).attr("width", 5).attr("height", 12)
      .attr("fill", "#f4f4f4").attr("stroke", "#888").attr("stroke-width", 1);
    g.append("rect").attr("x", gx - 4).attr("y", gy - 7).attr("width", 6).attr("height", 13)
      .attr("fill", "#22e03a");
  }
  g.selectAll("g.mark").data(p.marks).enter().append("g").attr("class", "mark")
    .each(function(d) {
      var mx = x(d[0]), my = y(d[1]);
      var m = d3.select(this);
      m.append("rect").attr("x", mx - 9).attr("y", my - 3.5).attr("width", 7).attr("height", 7)
        .attr("fill", "#f4f4f4").attr("stroke", "#888").attr("stroke-width", 1);
      m.append("rect").attr("x", mx - 3).attr("y", my - 4.5).attr("width", 7).attr("height", 9)
        .attr("fill", "#e8141c");
    });

  // panel title
  g.append("text").attr("x", p.tx).attr("y", p.ty)
    .attr("font-family", "Lato").attr("font-size", p.ts).attr("fill", "#000")
    .text(p.title);

  // axis titles
  if (p.dx !== null) {
    g.append("text").attr("transform", "translate(" + p.dx + "," + ((t + b) / 2) + ") rotate(-90)")
      .attr("text-anchor", "middle").attr("font-family", "DejaVu Sans").attr("font-size", 12)
      .attr("fill", "#333").text("\u0394Rn");
  }
  g.append("text").attr("x", (l + r) / 2).attr("y", b + p.cy)
    .attr("text-anchor", "middle").attr("font-family", "DejaVu Sans").attr("font-size", 13)
    .attr("fill", "#333").text("Cycle");
}

panels.forEach(drawPanel);
</script>
</body>
</html>
